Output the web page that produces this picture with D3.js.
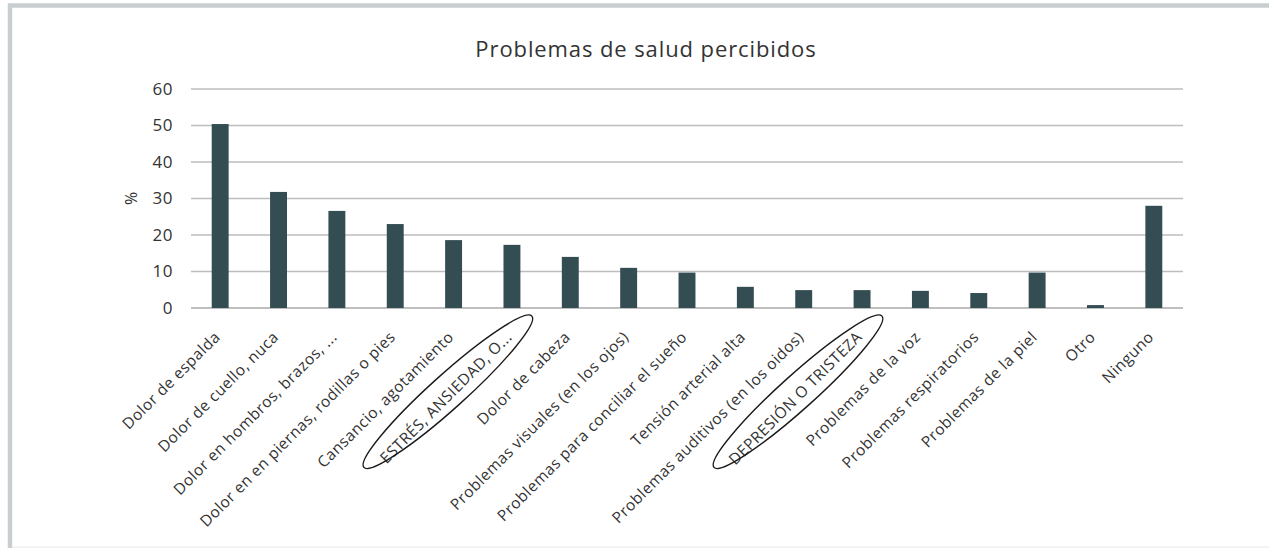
<!DOCTYPE html>
<html>
<head>
<meta charset="utf-8">
<script src="https://cdn.jsdelivr.net/npm/d3@7"></script>
<style>
    body { margin: 0; background: #fff; }
    svg { display: block; font-family: "Open Sans", Lato, sans-serif; }
</style>
</head>
<body>
<svg id="chart"></svg>
<script>
const categories = [
    'Dolor de espalda', 'Dolor de cuello, nuca', 'Dolor en hombros, brazos, ...',
    'Dolor en en piernas, rodillas o pies', 'Cansancio, agotamiento', 'ESTRÉS, ANSIEDAD, O...',
    'Dolor de cabeza', 'Problemas visuales (en los ojos)', 'Problemas para conciliar el sueño',
    'Tensión arterial alta', 'Problemas auditivos (en los oidos)', 'DEPRESIÓN O TRISTEZA',
    'Problemas de la voz', 'Problemas respiratorios', 'Problemas de la piel', 'Otro', 'Ninguno'
];
const values = [50.4, 31.8, 26.6, 23.0, 18.6, 17.3, 14.0, 11.0, 9.7, 5.8, 4.9, 4.9, 4.7, 4.1, 9.7, 0.8, 28.0];
const yTicks = [0, 10, 20, 30, 40, 50, 60];
const circled = ['ESTRÉS, ANSIEDAD, O...', 'DEPRESIÓN O TRISTEZA'];
const title = 'Problemas de salud percibidos';

let width = 1269;
let height = 548;
let margin = { top: 89, bot: 240, left: 191, right: 86 };
let config = {
    width: width - margin.left - margin.right,
    height: height - margin.top - margin.bot,
    margin: margin
};

let svg = d3.select('#chart')
    .attr('width', width)
    .attr('height', height);

// frame
svg.append('rect')
    .attr('x', 10).attr('y', 5.5)
    .attr('width', width + 20).attr('height', height + 20)
    .attr('fill', 'none')
    .attr('stroke', '#c9ced1')
    .attr('stroke-width', 4.5);
svg.append('line')
    .attr('x1', 12).attr('x2', width)
    .attr('y1', height - 1).attr('y2', height - 1)
    .attr('stroke', '#eef0f1').attr('stroke-width', 1.5);

let xScale = d3.scaleBand()
    .domain(categories)
    .range([0, config.width])
    .paddingInner(0.71)
    .paddingOuter(0.355);
let yScale = d3.scaleLinear()
    .domain([0, 60])
    .range([config.height, 0]);

let g = svg.append('g')
    .attr('transform', `translate(${margin.left},${margin.top})`);

// gridlines
g.append('g')
    .selectAll('line')
    .data(yTicks)
    .join('line')
    .attr('x1', 0).attr('x2', config.width)
    .attr('y1', d => yScale(d)).attr('y2', d => yScale(d))
    .attr('stroke', d => d === 0 ? '#aaaaaa' : '#bdbdbd')
    .attr('stroke-width', 1.3);

// y axis labels
let yAx = d3.axisLeft(yScale).tickValues(yTicks).tickSize(0).tickPadding(18);
let yAxGroup = g.append('g').call(yAx);
yAxGroup.select('.domain').remove();
yAxGroup.selectAll('text')
    .attr('font-size', 17)
    .attr('fill', '#333')
    .attr('letter-spacing', 0.5)
    .attr('font-family', '"Open Sans", sans-serif');

g.append('text')
    .attr('transform', `translate(${-60},${yScale(30)}) rotate(-90)`)
    .attr('text-anchor', 'middle')
    .attr('dy', '0.35em')
    .attr('font-size', 16)
    .attr('fill', '#333')
    .text('%');

// bars
g.append('g')
    .selectAll('rect')
    .data(values)
    .join('rect')
    .attr('x', (d, i) => xScale(categories[i]))
    .attr('y', d => yScale(d))
    .attr('width', xScale.bandwidth())
    .attr('height', d => yScale(0) - yScale(d))
    .attr('fill', '#344d53');

// x labels
let labelY = config.height + 30;
let labels = g.append('g')
    .selectAll('text')
    .data(categories)
    .join('text')
    .attr('transform', d => `translate(${xScale(d) + xScale.bandwidth() / 2 + 1},${labelY}) rotate(-45)`)
    .attr('text-anchor', 'end')
    .attr('font-size', 15.5)
    .attr('letter-spacing', 0.5)
    .attr('fill', '#333')
    .text(d => d);

// circled annotations
labels.each(function (d) {
    if (!circled.includes(d)) return;
    let cx = xScale(d) + xScale.bandwidth() / 2 + 1;
    g.append('ellipse')
        .attr('transform', `translate(${cx},${labelY}) rotate(-45) translate(${-84},${-8}) rotate(3)`)
        .attr('rx', 113)
        .attr('ry', 17)
        .attr('fill', 'none')
        .attr('stroke', '#1a1a1a')
        .attr('stroke-width', 1.4);
});

// title
svg.append('text')
    .attr('x', 646)
    .attr('y', 57)
    .attr('text-anchor', 'middle')
    .attr('font-size', 22)
    .attr('letter-spacing', 0.9)
    .attr('fill', '#333')
    .text(title);
</script>
</body>
</html>
